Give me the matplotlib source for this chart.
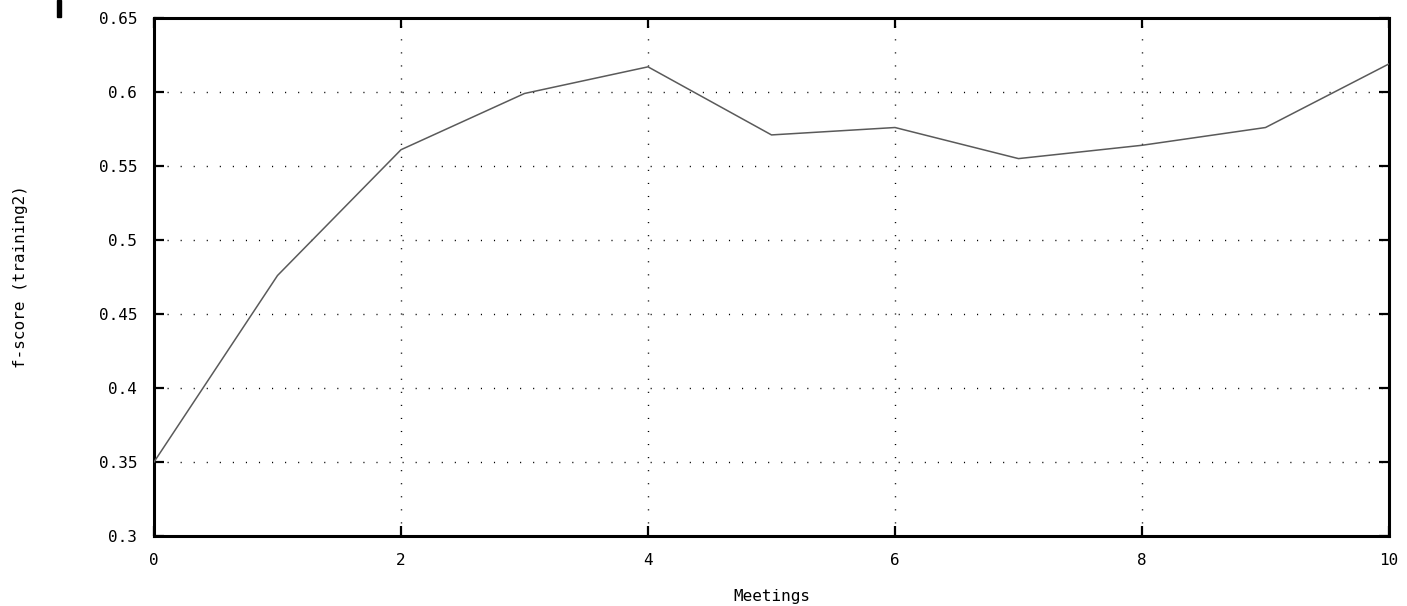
import numpy as np
import matplotlib
matplotlib.use("Agg")
import matplotlib.pyplot as plt
from matplotlib.patches import Rectangle

# f-score per number of meetings
meetings = [0, 1, 2, 3, 4, 5, 6, 7, 8, 9, 10]
fscore = [0.350, 0.476, 0.561, 0.599, 0.617, 0.571, 0.576, 0.555, 0.564, 0.576, 0.619]

xticks = [0, 2, 4, 6, 8, 10]
yticks = [0.3, 0.35, 0.4, 0.45, 0.5, 0.55, 0.6, 0.65]
ytick_labels = ["0.3", "0.35", "0.4", "0.45", "0.5", "0.55", "0.6", "0.65"]

plt.rcParams['font.family'] = ['DejaVu Sans Mono']

W, H = 1407, 606
fig = plt.figure(figsize=(W / 100, H / 100), dpi=100)
ax = fig.add_axes([154 / W, 1 - 536 / H, (1389 - 154) / W, (536 - 18) / H])

ax.plot(meetings, fscore, color="#5a5a5a", lw=1.1, zorder=3)

ax.set_xlim(0, 10)
ax.set_ylim(0.3, 0.65)
ax.set_xticks(xticks)
ax.set_xticklabels([str(t) for t in xticks])
ax.set_yticks(yticks)
ax.set_yticklabels(ytick_labels)

ax.grid(True, color="black", lw=1.0, linestyle=(0, (0.8, 8.6)))
for s in ax.spines.values():
    s.set_linewidth(2.2)
ax.tick_params(direction="in", length=7, width=1.6, top=True, right=True,
               labelsize=11.5, pad=12, colors="black")
ax.tick_params(axis="x", pad=12)

fig.text(21 / W, 1 - 277 / H, "f-score (training2)", rotation=90,
         ha="center", va="center", fontsize=11.5)
fig.text((154 + 1389) / 2 / W, 1 - 596 / H, "Meetings", ha="center", va="center",
         fontsize=11.5)

# small black mark at top-left corner of the image
fig.patches.append(Rectangle((57 / W, 1 - 17 / H), 4 / W, 17 / H,
                             transform=fig.transFigure, color="black"))

fig.savefig("out.png", dpi=100)
